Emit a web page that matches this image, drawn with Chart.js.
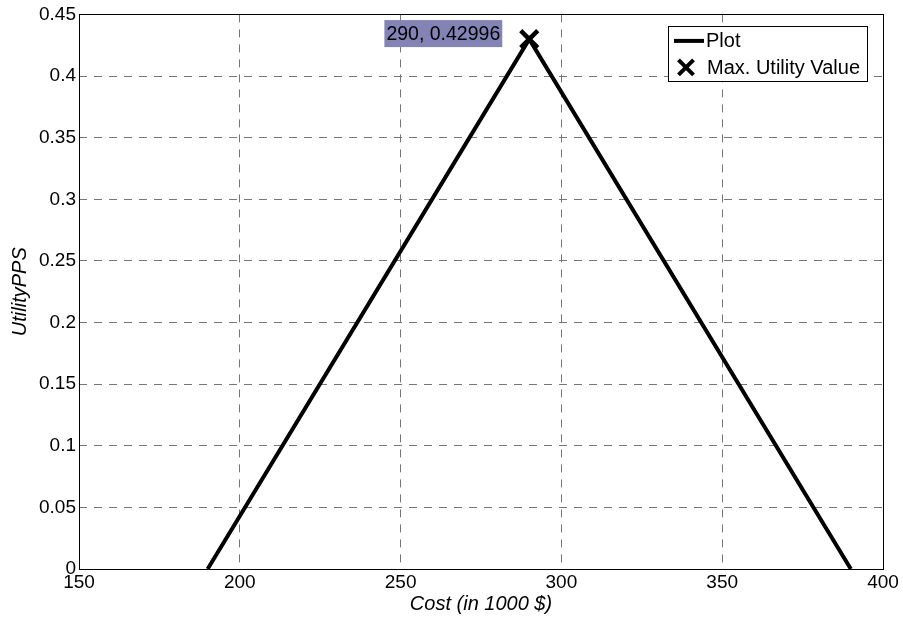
<!DOCTYPE html>
<html><head><meta charset="utf-8">
<script src="https://cdn.jsdelivr.net/npm/chart.js@4/dist/chart.umd.min.js"></script>
<style>html,body{margin:0;padding:0;background:#fff;overflow:hidden}</style>
</head><body>
<canvas id="c" width="903" height="619" style="display:block;width:903px;height:619px"></canvas>
<script>
// ---- data ----
const costValues = [190, 290, 390];
const utilityValues = [0, 0.42996, 0];
const maxCost = [290];
const maxUtility = [0.42996];
const xTickValues = [150, 200, 250, 300, 350, 400];
const yTickValues = [0, 0.05, 0.1, 0.15, 0.2, 0.25, 0.3, 0.35, 0.4, 0.45];
const seriesNames = ['Plot', 'Max. Utility Value'];
const xAxisTitle = 'Cost (in 1000 $)';
const yAxisTitle = 'UtilityPPS';
const annotationText = maxCost[0] + ', ' + maxUtility[0];

const FONT = 'Arial, "Liberation Sans", Helvetica, sans-serif';
const TICK_SIZE = 19;
const LEGEND_SIZE = 20;
const TIP_SIZE = 19.5;

const framePlugin = {
  id: 'frame',
  afterDatasetsDraw(chart) {
    const {ctx, chartArea: a} = chart;
    ctx.save();
    ctx.strokeStyle = '#000';
    ctx.lineWidth = 1;
    ctx.setLineDash([]);
    ctx.strokeRect(Math.round(a.left) + 0.5, Math.round(a.top) + 0.5,
      Math.round(a.right - a.left), Math.round(a.bottom - a.top));
    ctx.restore();
  }
};

const annotationPlugin = {
  id: 'tip',
  afterDraw(chart) {
    const {ctx, scales} = chart;
    const px = scales.x.getPixelForValue(maxCost[0]);
    const py = scales.y.getPixelForValue(maxUtility[0]);
    ctx.save();
    ctx.font = TIP_SIZE + 'px ' + FONT;
    const tw = ctx.measureText(annotationText).width;
    const right = px - 27, h = 27, cy = py - 5.5;
    const left = right - tw - 4;
    ctx.fillStyle = '#8383b6';
    ctx.fillRect(left, cy - h / 2, right - left, h);
    ctx.fillStyle = '#000';
    ctx.textBaseline = 'middle';
    ctx.textAlign = 'left';
    ctx.fillText(annotationText, left + 2, cy + 1);
    ctx.restore();
  }
};

const legendPlugin = {
  id: 'boxLegend',
  afterDraw(chart) {
    const {ctx, chartArea: a} = chart;
    ctx.save();
    ctx.font = LEGEND_SIZE + 'px ' + FONT;
    const names = chart.data.datasets.map(d => d.label);
    const tw = Math.max(...names.map(n => ctx.measureText(n).width));
    const right = a.right - 16, top = a.top + 11.5;
    const w = 40 + tw + 6, h = 55;
    const left = right - w;
    ctx.fillStyle = '#fff';
    ctx.fillRect(left, top, w, h);
    ctx.strokeStyle = '#000';
    ctx.lineWidth = 1;
    ctx.strokeRect(Math.round(left) + 0.5, Math.round(top) + 0.5, Math.round(w), Math.round(h));
    const r1 = top + 15, r2 = top + 41.5;
    ctx.lineWidth = 4;
    ctx.beginPath();
    ctx.moveTo(left + 6, r1);
    ctx.lineTo(left + 36, r1);
    ctx.stroke();
    const mx = left + 18, s = 7.5;
    ctx.lineWidth = 4;
    ctx.beginPath();
    ctx.moveTo(mx - s, r2 - s); ctx.lineTo(mx + s, r2 + s);
    ctx.moveTo(mx + s, r2 - s); ctx.lineTo(mx - s, r2 + s);
    ctx.stroke();
    ctx.fillStyle = '#000';
    ctx.textBaseline = 'middle';
    ctx.textAlign = 'left';
    ctx.fillText(names[0], left + 38, r1 + 1);
    ctx.fillText(names[1], left + 39, r2 + 1);
    ctx.restore();
  }
};

const gridOpts = {
  display: true,
  color: '#767676',
  lineWidth: 1,
  drawTicks: false
};

new Chart(document.getElementById('c'), {
  type: 'scatter',
  data: {
    datasets: [
      {
        label: seriesNames[0],
        data: costValues.map((x, i) => ({x, y: utilityValues[i]})),
        showLine: true,
        borderColor: '#000',
        borderWidth: 4,
        pointRadius: 0,
        fill: false,
        tension: 0
      },
      {
        label: seriesNames[1],
        data: maxCost.map((x, i) => ({x, y: maxUtility[i]})),
        showLine: false,
        pointStyle: 'crossRot',
        pointRadius: 12,
        borderColor: '#000',
        backgroundColor: '#000',
        pointBorderWidth: 4.5
      }
    ]
  },
  options: {
    responsive: false,
    animation: false,
    devicePixelRatio: 1,
    layout: {autoPadding: false, padding: {top: 13, right: 20, left: 0, bottom: 0}},
    plugins: {legend: {display: false}, tooltip: {enabled: false}},
    scales: {
      x: {
        type: 'linear',
        min: xTickValues[0],
        max: xTickValues[xTickValues.length - 1],
        afterBuildTicks: s => { s.ticks = xTickValues.map(v => ({value: v})); },
        afterFit: s => { s.height = 50; },
        grid: gridOpts,
        border: {display: false, dash: [8, 7]},
        ticks: {
          color: '#000', padding: 2, maxRotation: 0, autoSkip: false,
          font: {family: FONT, size: TICK_SIZE},
          callback: v => String(v)
        },
        title: {
          display: true, text: xAxisTitle, color: '#000',
          font: {family: FONT, size: 20, style: 'italic'},
          padding: {top: 0, bottom: 3}
        }
      },
      y: {
        type: 'linear',
        min: yTickValues[0],
        max: yTickValues[yTickValues.length - 1],
        afterBuildTicks: s => { s.ticks = yTickValues.map(v => ({value: v})); },
        afterFit: s => { s.width = 79; },
        grid: gridOpts,
        border: {display: false, dash: [8, 7]},
        ticks: {
          color: '#000', padding: 3, autoSkip: false,
          font: {family: FONT, size: TICK_SIZE},
          callback: v => String(v)
        },
        title: {
          display: true, text: yAxisTitle, color: '#000',
          font: {family: FONT, size: 20, style: 'italic'},
          padding: {top: 8.5, bottom: 0}
        }
      }
    }
  },
  plugins: [framePlugin, annotationPlugin, legendPlugin]
});
</script>
</body></html>
